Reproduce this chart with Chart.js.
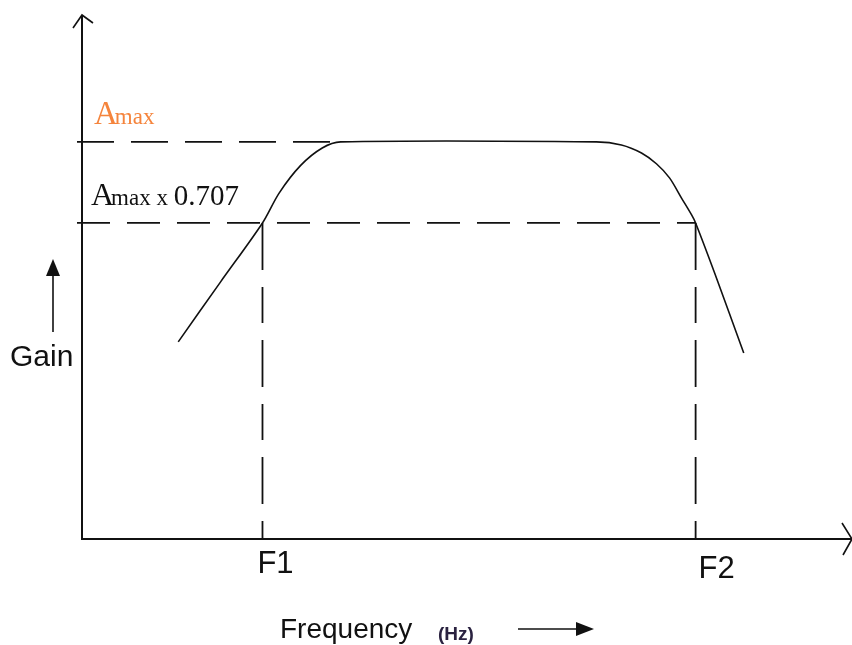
<!DOCTYPE html>
<html>
<head>
<meta charset="utf-8">
<title>Gain vs Frequency</title>
<script src="https://cdn.jsdelivr.net/npm/chart.js@4.4.1/dist/chart.umd.min.js"></script>
<style>
  html, body { margin: 0; padding: 0; background: #fff; }
  #wrap { width: 852px; height: 645px; position: relative; }
</style>
</head>
<body>
<div id="wrap"><canvas id="gainChart"></canvas></div>
<script>
'use strict';

// response levels (Amax normalised to 1)
var AMAX = 1.0;
var CUTOFF = AMAX * 0.707;

// cut-off frequencies on the x scale
var F1 = 23.44;
var F2 = 79.69;
var freqTicks = [F1, F2];
var freqTickLabels = ['F1', 'F2'];

// band-pass response curve
var curveFreq = [12.5, 18.0, 23.44, 25.6, 28.4, 31.2, 33.6, 66.8, 70.05, 72.66, 74.6, 76.3, 77.86, 79.17, 79.69, 82.16, 85.94];
var curveGain = [0.277, 0.494, 0.707, 0.815, 0.915, 0.978, 1.0, 1.0, 0.989, 0.960, 0.921, 0.870, 0.797, 0.736, 0.707, 0.526, 0.237];

var X_MIN = 0, X_MAX = 100;
var Y_MIN = -0.436, Y_MAX = 1.459;
var LEFT_STUB = -0.65;   // dashed level lines start just left of the y axis

function pts(xs, ys) {
    return xs.map(function (x, i) { return { x: x, y: ys[i] }; });
}

// axes with open arrowheads, labels and the direction arrows
var sketchAxes = {
    id: 'sketchAxes',
    afterDatasetsDraw: function (chart) {
        var ctx = chart.ctx;
        var xs = chart.scales.x, ys = chart.scales.y;
        var x0 = xs.getPixelForValue(X_MIN);
        var y0 = ys.getPixelForValue(Y_MIN);
        var xEnd = xs.getPixelForValue(X_MAX);
        var yTop = ys.getPixelForValue(Y_MAX);

        ctx.save();
        ctx.strokeStyle = '#111';
        ctx.lineWidth = 2;
        ctx.lineCap = 'butt';

        // y axis
        ctx.beginPath();
        ctx.moveTo(x0, y0 + 1);
        ctx.lineTo(x0, yTop);
        ctx.stroke();
        ctx.lineWidth = 1.6;
        ctx.beginPath();
        ctx.moveTo(x0 - 9, yTop + 13);
        ctx.lineTo(x0, yTop);
        ctx.lineTo(x0 + 11, yTop + 8);
        ctx.stroke();

        // x axis
        ctx.lineWidth = 2;
        ctx.beginPath();
        ctx.moveTo(x0, y0);
        ctx.lineTo(xEnd, y0);
        ctx.stroke();
        ctx.lineWidth = 1.6;
        ctx.beginPath();
        ctx.moveTo(xEnd - 10, y0 - 16);
        ctx.lineTo(xEnd, y0);
        ctx.lineTo(xEnd - 9, y0 + 16);
        ctx.stroke();

        // frequency tick labels
        ctx.fillStyle = '#111';
        ctx.textBaseline = 'alphabetic';
        ctx.textAlign = 'center';
        ctx.font = '31px "Liberation Sans", Arial, sans-serif';
        var drops = [34, 39];
        freqTicks.forEach(function (f, i) {
            ctx.fillText(freqTickLabels[i], xs.getPixelForValue(f) + 13 + i * 8, y0 + drops[i]);
        });

        // level labels
        var yAmax = ys.getPixelForValue(AMAX);
        var yCut = ys.getPixelForValue(CUTOFF);
        ctx.textAlign = 'left';
        ctx.fillStyle = '#f5843c';
        ctx.font = '33px "Liberation Serif", "Times New Roman", serif';
        ctx.fillText('A', 94, yAmax - 18);
        var wA = ctx.measureText('A').width;
        ctx.font = '23px "Liberation Serif", "Times New Roman", serif';
        ctx.fillText('max', 94 + wA - 3, yAmax - 18);

        ctx.fillStyle = '#111';
        ctx.font = '32px "Liberation Serif", "Times New Roman", serif';
        ctx.fillText('A', 91, yCut - 18);
        wA = ctx.measureText('A').width;
        ctx.font = '23px "Liberation Serif", "Times New Roman", serif';
        ctx.fillText('max x', 91 + wA - 3, yCut - 18);
        var wM = ctx.measureText('max x ').width;
        ctx.font = '29px "Liberation Serif", "Times New Roman", serif';
        ctx.fillText('0.707', 91 + wA - 3 + wM, yCut - 18);

        // Gain label with upward arrow
        ctx.font = '30px "Liberation Sans", Arial, sans-serif';
        ctx.fillText('Gain', 10, 366);
        ctx.lineWidth = 1.6;
        ctx.beginPath();
        ctx.moveTo(53, 332);
        ctx.lineTo(53, 272);
        ctx.stroke();
        ctx.beginPath();
        ctx.moveTo(53, 259);
        ctx.lineTo(46, 276);
        ctx.lineTo(60, 276);
        ctx.closePath();
        ctx.fill();

        // Frequency label with right arrow
        ctx.font = '28px "Liberation Sans", Arial, sans-serif';
        ctx.fillText('Frequency', 280, 638);
        ctx.fillStyle = '#2a2240';
        ctx.font = 'bold 19px "Liberation Sans", Arial, sans-serif';
        ctx.fillText('(Hz)', 438, 640);
        ctx.fillStyle = '#111';
        ctx.beginPath();
        ctx.moveTo(518, 629);
        ctx.lineTo(578, 629);
        ctx.stroke();
        ctx.beginPath();
        ctx.moveTo(594, 629);
        ctx.lineTo(576, 622);
        ctx.lineTo(576, 636);
        ctx.closePath();
        ctx.fill();
        ctx.restore();
    }
};

var dashStyle = {
    borderColor: '#111',
    borderWidth: 1.8,
    pointRadius: 0,
    tension: 0,
    fill: false,
    clip: false
};

function dashed(data, pattern) {
    return Object.assign({}, dashStyle, { data: data, borderDash: pattern });
}

var config = {
    type: 'scatter',
    data: {
        datasets: [
            {
                label: 'Response',
                data: pts(curveFreq, curveGain),
                borderColor: '#111',
                borderWidth: 1.6,
                pointRadius: 0,
                tension: 0.3,
                fill: false,
                clip: false
            },
            dashed([{ x: LEFT_STUB, y: AMAX }, { x: 33.6, y: AMAX }], [37, 17]),
            dashed([{ x: LEFT_STUB, y: CUTOFF }, { x: F2, y: CUTOFF }], [33, 17]),
            dashed([{ x: F1, y: CUTOFF }, { x: F1, y: Y_MIN }], [47, 17, 36, 17]),
            dashed([{ x: F2, y: CUTOFF }, { x: F2, y: Y_MIN }], [47, 17, 36, 17])
        ].map(function (d) { d.showLine = true; return d; })
    },
    options: {
        responsive: true,
        maintainAspectRatio: false,
        animation: false,
        layout: { padding: { left: 82, right: 0, top: 15, bottom: 106 } },
        plugins: {
            legend: { display: false },
            tooltip: { enabled: false }
        },
        scales: {
            x: { type: 'linear', min: X_MIN, max: X_MAX, display: false },
            y: { type: 'linear', min: Y_MIN, max: Y_MAX, display: false }
        }
    },
    plugins: [sketchAxes]
};

new Chart(document.getElementById('gainChart').getContext('2d'), config);
</script>
</body>
</html>
